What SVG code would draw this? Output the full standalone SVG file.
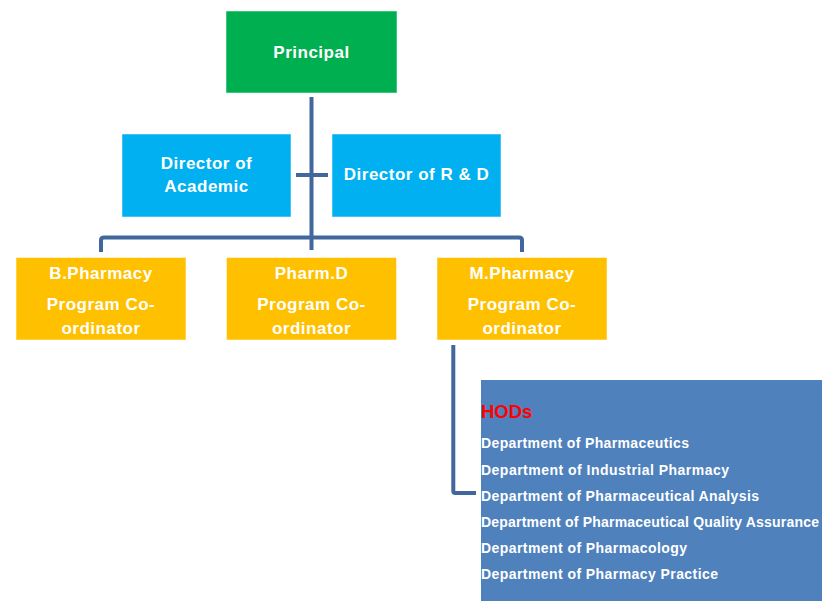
<svg xmlns="http://www.w3.org/2000/svg" width="822" height="601" viewBox="0 0 822 601">
<style>
.box{stroke:#ffffff;stroke-opacity:0.5;stroke-width:1}
.green{fill:#00B050}
.blue{fill:#00B0F0}
.yellow{fill:#FFC000}
.hod{fill:#4F81BD}
.t{font-family:"Liberation Sans",Arial,sans-serif;font-weight:bold;fill:#ffffff;text-anchor:middle;font-size:17px;letter-spacing:0.5px}
.d{font-family:"Liberation Sans",Arial,sans-serif;font-weight:bold;fill:#ffffff;font-size:14px}
.r{font-family:"Liberation Sans",Arial,sans-serif;font-weight:bold;fill:#FF0000;font-size:18.5px}
.c{fill:none;stroke:#41679C;stroke-width:4;stroke-linejoin:round}
</style>
<rect width="822" height="601" fill="#ffffff"/>
<g id="connectors">
<path class="c" d="M311.5 97 V250"/>
<path class="c" d="M296 175 H328"/>
<path class="c" d="M101 252 V240 Q101 237.5 104 237.5 H519 Q522 237.5 522 240 V252"/>
<path class="c" d="M453.3 345 V491 Q453.3 493 455.5 493 H476"/>
</g>
<g id="principal">
<rect class="box green" x="226" y="11" width="171" height="82"/>
<text class="t" x="311.5" y="57.5">Principal</text>
</g>
<g id="director-academic">
<rect class="box blue" x="122" y="134" width="169" height="83"/>
<text class="t" x="206.5" y="169">Director of</text>
<text class="t" x="206.5" y="192">Academic</text>
</g>
<g id="director-rd">
<rect class="box blue" x="332" y="134" width="169" height="83"/>
<text class="t" x="416.5" y="180">Director of R &amp; D</text>
</g>
<g id="bpharmacy">
<rect class="box yellow" x="16" y="257.5" width="170" height="82.5"/>
<text class="t" x="101" y="278.5">B.Pharmacy</text>
<text class="t" x="101" y="310">Program Co-</text>
<text class="t" x="101" y="333.5">ordinator</text>
</g>
<g id="pharmd">
<rect class="box yellow" x="226.5" y="257.5" width="170" height="82.5"/>
<text class="t" x="311.5" y="278.5">Pharm.D</text>
<text class="t" x="311.5" y="310">Program Co-</text>
<text class="t" x="311.5" y="333.5">ordinator</text>
</g>
<g id="mpharmacy">
<rect class="box yellow" x="437" y="257.5" width="170" height="82.5"/>
<text class="t" x="522" y="278.5">M.Pharmacy</text>
<text class="t" x="522" y="310">Program Co-</text>
<text class="t" x="522" y="333.5">ordinator</text>
</g>
<g id="hods">
<rect class="hod" x="481" y="380" width="341" height="221"/>
<text class="r" x="481" y="418.3">HODs</text>
<text class="d" x="481" y="448.3" textLength="208" lengthAdjust="spacing">Department of Pharmaceutics</text>
<text class="d" x="481" y="475.3" textLength="248" lengthAdjust="spacing">Department of Industrial  Pharmacy</text>
<text class="d" x="481" y="501.3" textLength="278" lengthAdjust="spacing">Department of Pharmaceutical  Analysis</text>
<text class="d" x="481" y="527" textLength="338" lengthAdjust="spacing">Department of Pharmaceutical  Quality Assurance</text>
<text class="d" x="481" y="553" textLength="206" lengthAdjust="spacing">Department of Pharmacology</text>
<text class="d" x="481" y="579.3" textLength="237" lengthAdjust="spacing">Department of Pharmacy  Practice</text>
</g>
</svg>
